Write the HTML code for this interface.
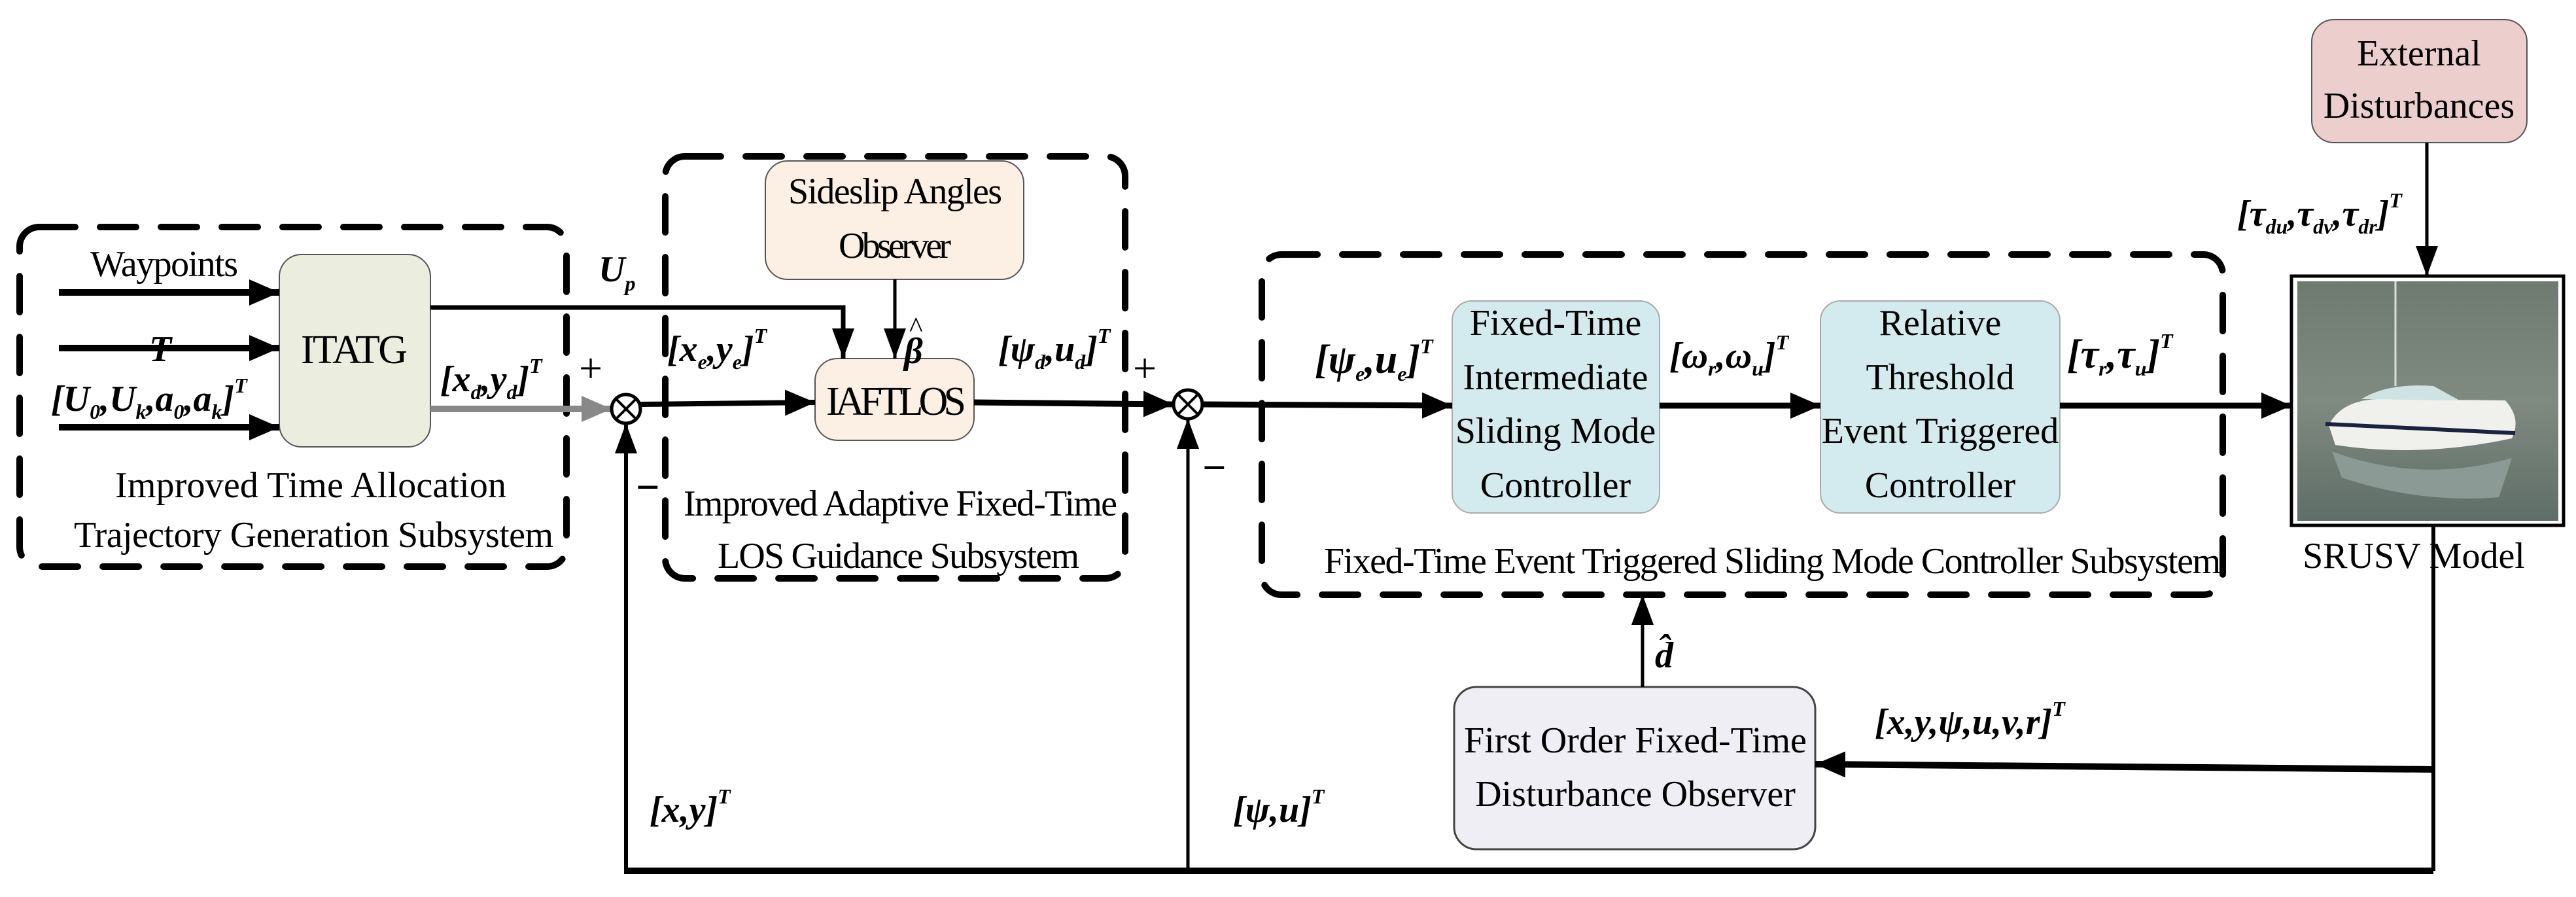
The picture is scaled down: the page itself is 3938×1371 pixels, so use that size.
<!DOCTYPE html>
<html><head><meta charset="utf-8"><style>
html,body{margin:0;padding:0;background:#fff;}
svg{display:block;}
text{font-family:"Liberation Serif",serif;fill:#000;}
.t{font-size:56px;}
.m{font-size:56px;font-style:italic;font-weight:bold;}
.s{font-size:32px;font-style:italic;font-weight:bold;}
.b{font-size:62px;font-weight:300;}
</style></head><body>
<svg width="3938" height="1371" viewBox="0 0 3938 1371" xmlns="http://www.w3.org/2000/svg">
<defs>
<marker id="ah" markerWidth="46" markerHeight="40" refX="10" refY="5" orient="auto" markerUnits="userSpaceOnUse" viewBox="0 0 10 10" preserveAspectRatio="none"><path d="M0,0 L10,5 L0,10 z"/></marker>
<marker id="ahs" markerWidth="46" markerHeight="34" refX="10" refY="5" orient="auto" markerUnits="userSpaceOnUse" viewBox="0 0 10 10" preserveAspectRatio="none"><path d="M0,0 L10,5 L0,10 z"/></marker>
<marker id="ahg" markerWidth="46" markerHeight="40" refX="10" refY="5" orient="auto" markerUnits="userSpaceOnUse" viewBox="0 0 10 10" preserveAspectRatio="none"><path d="M0,0 L10,5 L0,10 z" fill="#888"/></marker>
<linearGradient id="wg" x1="0" y1="0" x2="0" y2="1"><stop offset="0" stop-color="#6f7a70"/><stop offset="0.5" stop-color="#7f8a80"/><stop offset="1" stop-color="#5f6e68"/></linearGradient>
</defs>

<g fill="none" stroke="#000" stroke-width="10" stroke-dasharray="55 38" stroke-linecap="round">
<rect x="30" y="347" width="836" height="519" rx="30"/>
<rect x="1017" y="239" width="703" height="645" rx="30"/>
<rect x="1929" y="389" width="1469" height="520" rx="30"/>
</g>

<rect x="427" y="389" width="231" height="294" rx="34" fill="#ebeedf" stroke="#555" stroke-width="2"/>
<rect x="1170" y="246" width="395" height="181" rx="34" fill="#fcefe3" stroke="#555" stroke-width="2"/>
<rect x="1246" y="548" width="243" height="125" rx="34" fill="#fcefe3" stroke="#555" stroke-width="2"/>
<rect x="2220" y="460" width="317" height="324" rx="30" fill="#d3eaee" stroke="#aaa" stroke-width="2"/>
<rect x="2783" y="460" width="366" height="324" rx="30" fill="#d3eaee" stroke="#aaa" stroke-width="2"/>
<rect x="3534" y="30" width="329" height="188" rx="34" fill="#eccfcd" stroke="#555" stroke-width="2"/>
<rect x="2223" y="1050" width="552" height="248" rx="34" fill="#efeef4" stroke="#444" stroke-width="3"/>

<rect x="3503" y="422" width="416" height="381" fill="#fff" stroke="#000" stroke-width="5"/>
<rect x="3512" y="430" width="399" height="366" fill="url(#wg)"/>
<path d="M3560,650 Q3580,610 3640,610 L3830,612 Q3855,640 3840,670 Q3700,700 3570,680 Z" fill="#f0f0ec"/>
<path d="M3555,648 L3845,662" stroke="#1b2240" stroke-width="6"/>
<path d="M3610,610 Q3650,585 3720,590 L3760,612 Z" fill="#cfe3e3"/>
<line x1="3662" y1="430" x2="3662" y2="590" stroke="#ddd" stroke-width="3"/>
<path d="M3565,690 Q3700,740 3840,700 L3820,760 Q3700,770 3580,730 Z" fill="#8c9a95"/>

<g stroke="#000" fill="none">
<line x1="90" y1="447" x2="427" y2="447" stroke-width="10" marker-end="url(#ah)"/>
<line x1="90" y1="532" x2="427" y2="532" stroke-width="10" marker-end="url(#ah)"/>
<line x1="90" y1="653" x2="427" y2="653" stroke-width="10" marker-end="url(#ah)"/>
<polyline points="658,470 1289,470 1289,548" stroke-width="7" marker-end="url(#ahs)"/>
<line x1="1368" y1="427" x2="1368" y2="548" stroke-width="5" marker-end="url(#ahs)"/>
<line x1="658" y1="625" x2="935" y2="625" stroke="#888" stroke-width="10" marker-end="url(#ahg)"/>
<line x1="979" y1="618" x2="1246" y2="615" stroke-width="8" marker-end="url(#ah)"/>
<line x1="1489" y1="615" x2="1794" y2="618" stroke-width="9" marker-end="url(#ah)"/>
<line x1="1838" y1="618" x2="2220" y2="620" stroke-width="9" marker-end="url(#ah)"/>
<line x1="2537" y1="620" x2="2783" y2="620" stroke-width="9" marker-end="url(#ah)"/>
<line x1="3149" y1="620" x2="3503" y2="620" stroke-width="9" marker-end="url(#ah)"/>
<line x1="3710" y1="218" x2="3710" y2="422" stroke-width="5" marker-end="url(#ahs)"/>
<line x1="3720" y1="803" x2="3720" y2="1331" stroke-width="6"/>
<line x1="3720" y1="1176" x2="2775" y2="1168" stroke-width="10" marker-end="url(#ah)"/>
<line x1="2511" y1="1050" x2="2511" y2="909" stroke-width="5" marker-end="url(#ahs)"/>
<polyline points="957,1331 3720,1331" stroke-width="10"/>
<line x1="957" y1="1336" x2="957" y2="647" stroke-width="6" marker-end="url(#ahs)"/>
<line x1="1816" y1="1331" x2="1816" y2="640" stroke-width="5" marker-end="url(#ahs)"/>
<circle cx="957" cy="625" r="22" stroke-width="5" fill="#fff"/>
<line x1="942" y1="610" x2="972" y2="640" stroke-width="4"/><line x1="972" y1="610" x2="942" y2="640" stroke-width="4"/>
<circle cx="1816" cy="618" r="22" stroke-width="5" fill="#fff"/>
<line x1="1801" y1="603" x2="1831" y2="633" stroke-width="4"/><line x1="1831" y1="603" x2="1801" y2="633" stroke-width="4"/>
</g>

<text class="t" x="138" y="422" textLength="226">Waypoints</text>
<text class="b" x="460" y="555" textLength="163">ITATG</text>
<text class="t" x="176" y="760" textLength="598">Improved Time Allocation</text>
<text class="t" x="113" y="836" textLength="733">Trajectory Generation Subsystem</text>
<text class="t" x="1205" y="311" textLength="327">Sideslip Angles</text>
<text class="t" x="1282" y="394" textLength="172">Observer</text>
<text class="b" x="1263" y="634" textLength="214">IAFTLOS</text>
<text class="t" x="1045" y="788" textLength="663">Improved Adaptive Fixed-Time</text>
<text class="t" x="1097" y="868" textLength="553">LOS Guidance Subsystem</text>
<g text-anchor="middle">
<text class="t" x="2378" y="512">Fixed-Time</text>
<text class="t" x="2378" y="595">Intermediate</text>
<text class="t" x="2378" y="677">Sliding Mode</text>
<text class="t" x="2378" y="760">Controller</text>
<text class="t" x="2966" y="512">Relative</text>
<text class="t" x="2966" y="595">Threshold</text>
<text class="t" x="2966" y="677">Event Triggered</text>
<text class="t" x="2966" y="760">Controller</text>
<text class="t" x="3698" y="100">External</text>
<text class="t" x="3698" y="180">Disturbances</text>
<text class="t" x="3690" y="868">SRUSV Model</text>
<text class="t" x="2500" y="1150">First Order Fixed-Time</text>
<text class="t" x="2500" y="1232">Disturbance Observer</text>
</g>
<text class="t" x="2024" y="876" textLength="1371">Fixed-Time Event Triggered Sliding Mode Controller Subsystem</text>

<text class="m" x="228" y="552">T</text>
<text class="m" x="78" y="628">[U<tspan class="s" dy="12">0</tspan><tspan dy="-12">,U</tspan><tspan class="s" dy="12">k</tspan><tspan dy="-12">,a</tspan><tspan class="s" dy="12">0</tspan><tspan dy="-12">,a</tspan><tspan class="s" dy="12">k</tspan><tspan dy="-12">]</tspan><tspan class="s" dy="-28">T</tspan></text>
<text class="m" x="673" y="598">[x<tspan class="s" dy="12">d</tspan><tspan dy="-12">,y</tspan><tspan class="s" dy="12">d</tspan><tspan dy="-12">]</tspan><tspan class="s" dy="-28">T</tspan></text>
<text class="m" x="915" y="430">U<tspan class="s" dy="14">p</tspan></text>
<text class="m" x="1382" y="555">β</text>
<text class="t" x="1390" y="515" style="font-size:44px">^</text>
<text class="m" x="1020" y="552">[x<tspan class="s" dy="12">e</tspan><tspan dy="-12">,y</tspan><tspan class="s" dy="12">e</tspan><tspan dy="-12">]</tspan><tspan class="s" dy="-28">T</tspan></text>
<text class="m" x="1526" y="552">[ψ<tspan class="s" dy="12">d</tspan><tspan dy="-12">,u</tspan><tspan class="s" dy="12">d</tspan><tspan dy="-12">]</tspan><tspan class="s" dy="-28">T</tspan></text>
<text class="t" x="885" y="584" style="font-size:64px">+</text>
<text class="t" x="1732" y="584" style="font-size:64px">+</text>
<text class="t" x="972" y="766" style="font-size:64px;font-weight:bold">−</text>
<text class="t" x="1838" y="736" style="font-size:64px;font-weight:bold">−</text>
<text class="m" x="2010" y="570" style="font-size:62px">[ψ<tspan class="s" dy="12">e</tspan><tspan dy="-12">,u</tspan><tspan class="s" dy="12">e</tspan><tspan dy="-12">]</tspan><tspan class="s" dy="-30">T</tspan></text>
<text class="m" x="2552" y="562">[ω<tspan class="s" dy="12">r</tspan><tspan dy="-12">,ω</tspan><tspan class="s" dy="12">u</tspan><tspan dy="-12">]</tspan><tspan class="s" dy="-28">T</tspan></text>
<text class="m" x="3160" y="562" style="font-size:62px">[τ<tspan class="s" dy="12">r</tspan><tspan dy="-12">,τ</tspan><tspan class="s" dy="12">u</tspan><tspan dy="-12">]</tspan><tspan class="s" dy="-30">T</tspan></text>
<text class="m" x="3420" y="345">[τ<tspan class="s" dy="12">du</tspan><tspan dy="-12">,τ</tspan><tspan class="s" dy="12">dv</tspan><tspan dy="-12">,τ</tspan><tspan class="s" dy="12">dr</tspan><tspan dy="-12">]</tspan><tspan class="s" dy="-28">T</tspan></text>
<text class="m" x="2530" y="1020">d̂</text>
<text class="m" x="2866" y="1122">[x,y,ψ,u,v,r]<tspan class="s" dy="-28">T</tspan></text>
<text class="m" x="993" y="1256">[x,y]<tspan class="s" dy="-28">T</tspan></text>
<text class="m" x="1885" y="1256">[ψ,u]<tspan class="s" dy="-28">T</tspan></text>
</svg>
</body></html>
